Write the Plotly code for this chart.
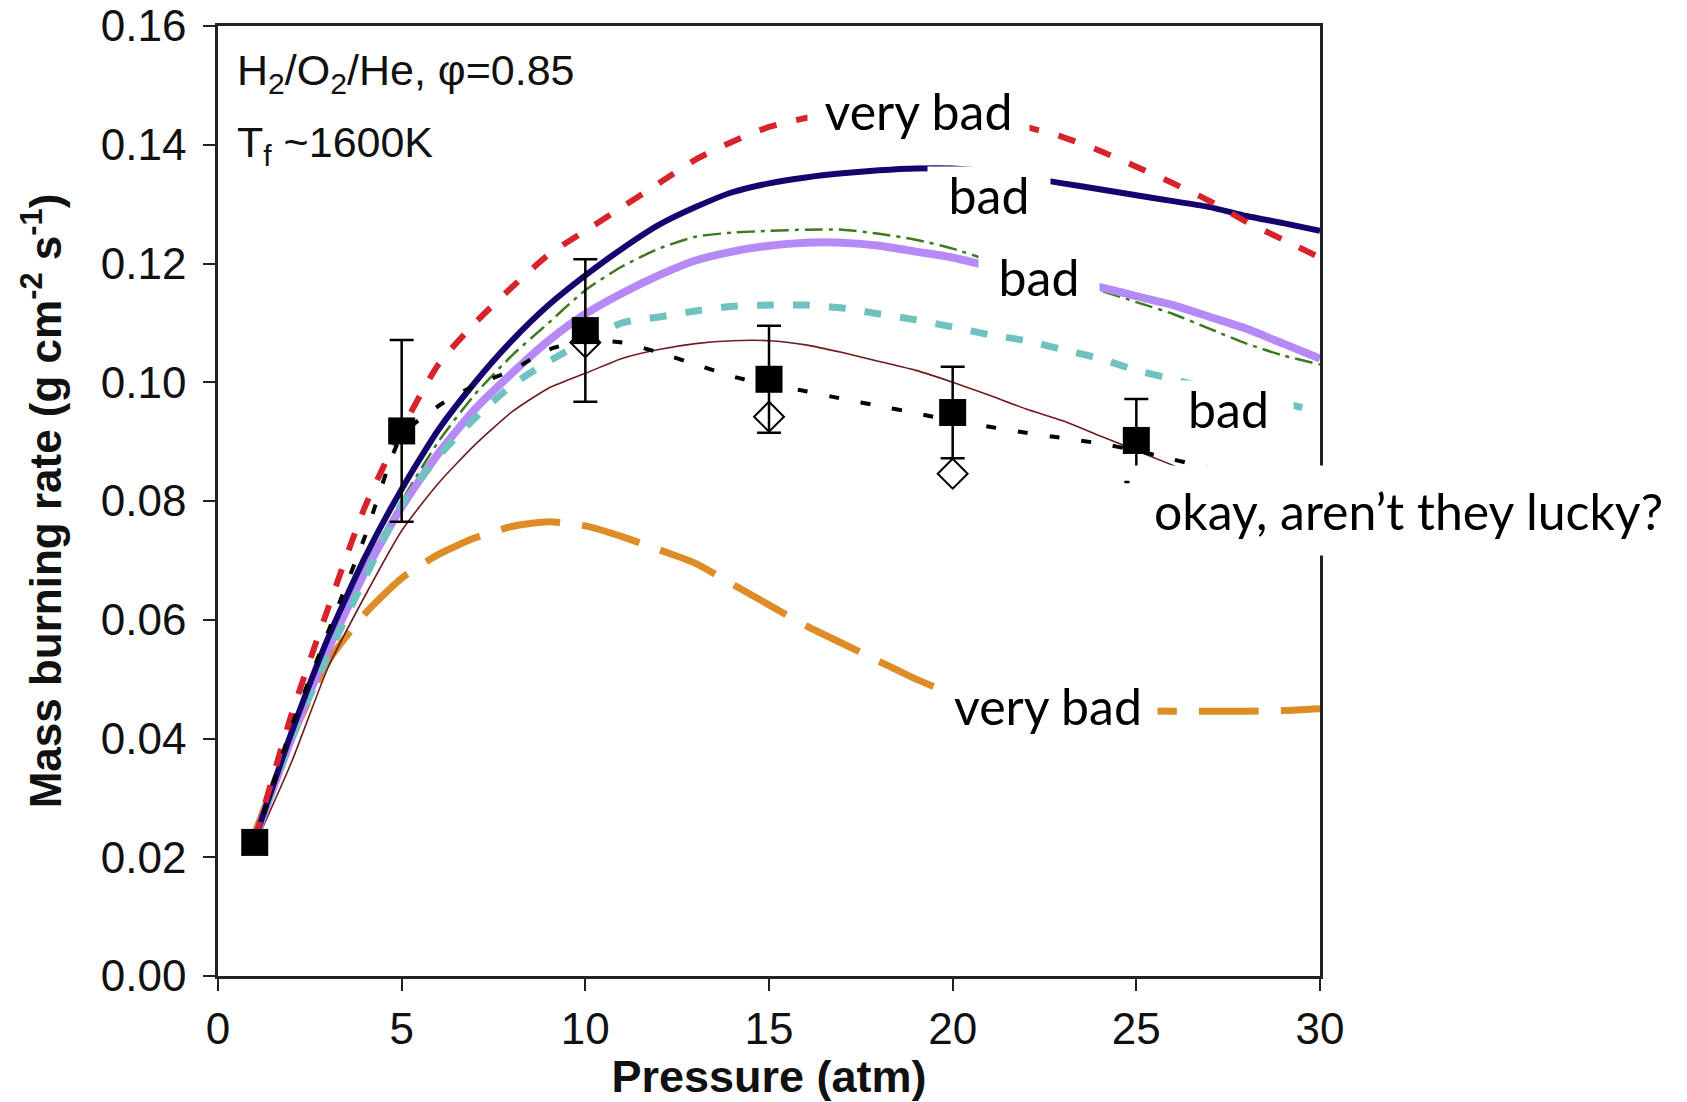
import plotly.graph_objects as go

# ---------------- data ----------------
pressure = list(range(1, 31))

red_very_bad = [0.023, 0.044, 0.062, 0.079, 0.092, 0.103, 0.110, 0.116, 0.1215, 0.1255,
                0.1295, 0.1335, 0.1375, 0.1405, 0.143, 0.1445, 0.1455, 0.146, 0.146, 0.1455,
                0.1445, 0.143, 0.1413, 0.139, 0.1363, 0.1335, 0.1305, 0.127, 0.124, 0.121]
navy_bad = [0.023, 0.041, 0.057, 0.0705, 0.082, 0.092, 0.100, 0.107, 0.113, 0.118,
            0.1225, 0.1265, 0.1295, 0.132, 0.1335, 0.1345, 0.1352, 0.1357, 0.136, 0.136,
            0.1355, 0.1345, 0.1335, 0.1325, 0.1315, 0.1305, 0.1295, 0.128, 0.1268, 0.1255]
green_bad = [0.023, 0.041, 0.056, 0.069, 0.080, 0.090, 0.098, 0.1045, 0.110, 0.1155,
             0.1195, 0.1225, 0.1245, 0.1252, 0.1255, 0.1257, 0.1257, 0.125, 0.124, 0.1225,
             0.1205, 0.1185, 0.117, 0.1155, 0.1135, 0.1115, 0.109, 0.1065, 0.1045, 0.103]
purple_bad = [0.023, 0.040, 0.055, 0.068, 0.079, 0.088, 0.0955, 0.1015, 0.107, 0.1115,
              0.115, 0.118, 0.1205, 0.122, 0.123, 0.1235, 0.1235, 0.123, 0.122, 0.121,
              0.1195, 0.118, 0.1168, 0.116, 0.1145, 0.113, 0.111, 0.109, 0.1065, 0.104]
teal_bad = [0.023, 0.040, 0.054, 0.067, 0.0795, 0.0875, 0.094, 0.0995, 0.1035, 0.107,
            0.110, 0.111, 0.112, 0.1128, 0.113, 0.113, 0.1125, 0.1115, 0.1105, 0.1093,
            0.108, 0.107, 0.1055, 0.104, 0.102, 0.1005, 0.099, 0.0978, 0.0965, 0.095]
brown_okay = [0.022, 0.036, 0.052, 0.064, 0.075, 0.083, 0.0895, 0.095, 0.099, 0.1015,
              0.104, 0.1055, 0.1065, 0.107, 0.107, 0.1063, 0.105, 0.1035, 0.102, 0.100,
              0.0978, 0.0955, 0.0935, 0.091, 0.0885, 0.086, 0.0835, 0.081, 0.0785, 0.076]
black_dotted = [0.022, 0.042, 0.058, 0.074, 0.091, 0.096, 0.0995, 0.102, 0.1055, 0.107,
                0.1067, 0.105, 0.103, 0.101, 0.0995, 0.0985, 0.0972, 0.096, 0.0948, 0.0935,
                0.0925, 0.0915, 0.0906, 0.0897, 0.0885, 0.087, 0.0855]
orange_very_bad = [0.024, 0.040, 0.053, 0.061, 0.067, 0.071, 0.0738, 0.0757, 0.0765, 0.0758,
                   0.074, 0.0718, 0.0695, 0.066, 0.0625, 0.059, 0.056, 0.053, 0.050, 0.0475,
                   0.046, 0.0453, 0.045, 0.0448, 0.0447, 0.0446, 0.0446, 0.0446, 0.0447, 0.045]

exp_p = [1, 5, 10, 15, 20, 25]
exp_rate = [0.0225, 0.0918, 0.1087, 0.1005, 0.0949, 0.0902]
exp_err = [0.0, 0.0153, 0.012, 0.009, 0.0077, 0.007]

open_p = [10, 15, 20]
open_rate = [0.1067, 0.0942, 0.0846]

x_ticks = [0, 5, 10, 15, 20, 25, 30]
y_ticks = [0.00, 0.02, 0.04, 0.06, 0.08, 0.10, 0.12, 0.14, 0.16]

# label boxes: x in data units unless ref is "paper"
labels = ["very bad", "bad", "bad", "bad", "okay, aren’t they lucky?", "very bad"]
label_x = [19.06, 21.0, 22.36, 27.5, 1.080, 22.6]
label_xref = ["x", "x", "x", "x", "paper", "x"]
label_y = [0.1457, 0.1317, 0.1178, 0.0955, 0.0784, 0.0455]
label_w = [221, 122, 120, 129, 557, 218]
label_h = [60, 55, 55, 55, 89, 60]

# ---------------- figure ----------------
fig = go.Figure()

def add_line(y, color, width, dash, xs=pressure):
    fig.add_trace(go.Scatter(x=xs[:len(y)], y=y, mode="lines",
                             line=dict(color=color, width=width, dash=dash, shape="spline", smoothing=0.6),
                             showlegend=False, hoverinfo="skip"))

add_line(orange_very_bad, "#de8c26", 7, "60px,22px")
add_line(brown_okay, "#6e1c1c", 1.6, "solid")
add_line(green_bad, "#3b7a1e", 2.5, "18px,6px,4px,6px")
add_line(purple_bad, "#b58af7", 8, "solid")
add_line(teal_bad, "#70c2c1", 7, "17px,19px")
add_line(navy_bad, "#16056e", 6, "solid")
add_line(red_very_bad, "#d7232b", 6, "18px,20px")
add_line(black_dotted, "#000000", 4, "10px,22px")

fig.add_trace(go.Scatter(x=open_p, y=open_rate, mode="markers",
                         marker=dict(symbol="diamond-open", size=23, color="black",
                                     line=dict(color="black", width=2)),
                         showlegend=False, hoverinfo="skip"))
fig.add_trace(go.Scatter(x=exp_p, y=exp_rate, mode="markers",
                         marker=dict(symbol="square", size=27, color="black"),
                         error_y=dict(type="data", array=exp_err, visible=True,
                                      color="black", thickness=2.5, width=12),
                         showlegend=False, hoverinfo="skip"))

# Top-left condition text
fig.add_annotation(x=0.45, y=0.1521, xref="x", yref="y", xanchor="left", yanchor="middle",
                   text="H<sub>2</sub>/O<sub>2</sub>/He, φ=0.85", showarrow=False,
                   font=dict(family="Liberation Sans, Arial", size=43, color="#111111"))
fig.add_annotation(x=0.45, y=0.1399, xref="x", yref="y", xanchor="left", yanchor="middle",
                   text="T<sub>f</sub> ~1600K", showarrow=False,
                   font=dict(family="Liberation Sans, Arial", size=43, color="#111111"))

for t, lx, xr, ly, w, h in zip(labels, label_x, label_xref, label_y, label_w, label_h):
    fig.add_annotation(x=lx, y=ly, xref=xr, yref="y", xanchor="center", yanchor="middle",
                       text=t, showarrow=False, bgcolor="white", width=w, height=h,
                       borderpad=0, align="center", valign="middle",
                       font=dict(family="Lato, Open Sans", size=50, color="black"))

axis_common = dict(showline=True, linecolor="#222222", linewidth=2.5, mirror=True,
                   ticks="outside", ticklen=12, tickwidth=2, tickcolor="#222222",
                   showgrid=False, zeroline=False,
                   tickfont=dict(family="Liberation Sans, Arial", size=44, color="#111111"))

fig.update_xaxes(range=[0, 30], tickvals=x_ticks, ticktext=[str(v) for v in x_ticks],
                 title=dict(text="<b>Pressure (atm)</b>", standoff=8,
                            font=dict(family="Liberation Sans, Arial", size=45, color="#111111")),
                 **axis_common)
fig.update_yaxes(range=[0, 0.16], tickvals=y_ticks, ticktext=[f"{v:.2f}" for v in y_ticks],
                 ticklabelstandoff=8,
                 title=dict(text="<b>Mass burning rate (g cm<sup>-2</sup> s<sup>-1</sup>)</b>", standoff=26,
                            font=dict(family="Liberation Sans, Arial", size=44, color="#111111")),
                 **axis_common)

fig.update_layout(width=1687, height=1102,
                  margin=dict(l=218, r=367, t=26, b=126, autoexpand=False),
                  plot_bgcolor="white", paper_bgcolor="white", showlegend=False)

fig.write_html("out.html")
